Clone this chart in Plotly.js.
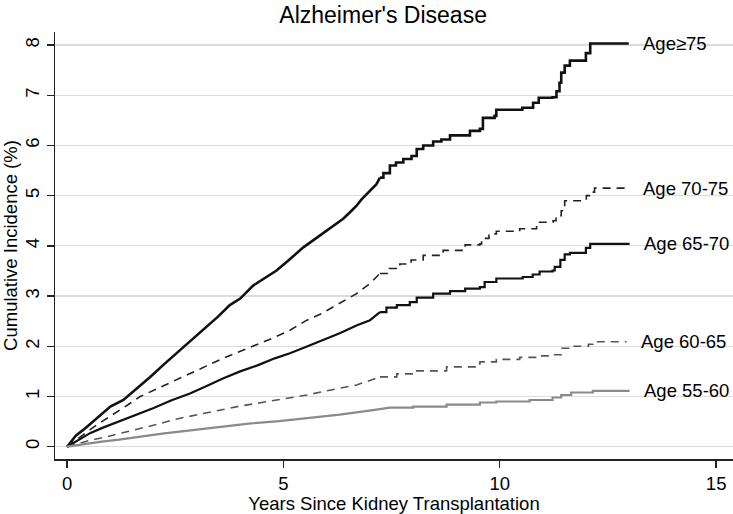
<!DOCTYPE html>
<html>
<head>
<meta charset="utf-8">
<script src="https://cdn.plot.ly/plotly-3.0.1.min.js"></script>
<style>html,body{margin:0;padding:0;background:#fff;}#chart{width:733px;height:514px;}</style>
</head>
<body>
<div id="chart"></div>
<script>
const seriesNames = ["Age≥75", "Age 70-75", "Age 65-70", "Age 60-65", "Age 55-60"];

const t75 = [0,0.1,0.2,0.38,0.6,0.8,1.0,1.3,1.6,1.92,2.25,2.61,2.95,3.3,3.5,3.76,4.0,4.3,4.6,4.84,5.1,5.46,5.75,6.0,6.2,6.38,6.55,6.69,6.8,6.92,7.05,7.15,7.23,7.31,7.46,7.6,7.77,7.96,8.08,8.23,8.46,8.65,8.85,9.31,9.54,9.61,9.88,9.92,10.52,10.77,10.9,11.22,11.31,11.38,11.42,11.5,11.62,11.99,12.09,12.98];
const v75 = [0,0.12,0.22,0.34,0.5,0.66,0.8,0.93,1.15,1.39,1.65,1.92,2.18,2.45,2.6,2.82,2.95,3.21,3.38,3.51,3.7,3.97,4.15,4.31,4.43,4.54,4.68,4.8,4.92,5.03,5.15,5.23,5.36,5.45,5.6,5.66,5.73,5.79,5.93,6.0,6.08,6.12,6.2,6.29,6.33,6.55,6.59,6.71,6.75,6.85,6.95,6.96,7.08,7.25,7.45,7.59,7.69,7.84,8.03,8.03];

const t7075 = [0,0.15,0.3,0.53,0.8,1.1,1.4,1.69,2.0,2.4,2.84,3.2,3.6,4.0,4.4,4.8,5.15,5.54,5.9,6.3,6.69,7.0,7.23,7.45,7.69,7.95,8.23,8.69,9.2,9.54,9.58,9.75,9.92,10.46,10.85,11.23,11.3,11.42,11.5,12.0,12.1,12.19,12.99];
const v7075 = [0,0.1,0.2,0.34,0.5,0.66,0.83,1.0,1.12,1.28,1.46,1.6,1.76,1.9,2.04,2.18,2.32,2.52,2.66,2.85,3.05,3.25,3.45,3.55,3.64,3.72,3.81,3.91,4.02,4.04,4.15,4.24,4.29,4.34,4.47,4.5,4.6,4.7,4.9,5.0,5.07,5.15,5.15];

const t6570 = [0,0.15,0.3,0.53,0.8,1.1,1.4,1.69,2.0,2.4,2.84,3.2,3.6,4.0,4.4,4.8,5.15,5.5,5.9,6.3,6.7,7.0,7.23,7.38,7.62,7.92,8.08,8.46,8.85,9.2,9.54,9.65,9.92,10.53,10.76,10.92,11.22,11.27,11.4,11.5,11.62,11.99,12.09,13.0];
const v6570 = [0,0.08,0.16,0.27,0.37,0.47,0.57,0.67,0.77,0.92,1.06,1.2,1.36,1.5,1.62,1.76,1.86,1.98,2.12,2.26,2.42,2.52,2.68,2.77,2.82,2.88,2.97,3.05,3.1,3.15,3.18,3.28,3.35,3.38,3.43,3.49,3.51,3.58,3.72,3.83,3.86,3.96,4.04,4.04];

const t6065 = [0,0.2,0.5,0.92,1.3,1.7,2.1,2.46,2.9,3.4,4.0,4.5,5.0,5.54,6.1,6.69,7.0,7.23,7.62,8.0,8.77,9.45,9.54,9.92,10.46,10.85,11.22,11.42,11.62,12.05,12.15,12.93];
const v6065 = [0,0.05,0.12,0.2,0.28,0.36,0.45,0.54,0.62,0.71,0.81,0.88,0.95,1.03,1.13,1.23,1.32,1.39,1.45,1.51,1.59,1.65,1.69,1.74,1.78,1.81,1.83,1.96,2.0,2.04,2.09,2.09];

const t5560 = [0,0.3,0.8,1.2,1.69,2.2,2.9,3.61,4.2,4.9,5.54,6.3,7.07,7.46,8.0,8.77,9.54,9.92,10.69,11.22,11.42,11.65,12.15,13.0];
const v5560 = [0,0.04,0.1,0.14,0.2,0.26,0.33,0.4,0.46,0.51,0.57,0.64,0.73,0.78,0.8,0.84,0.88,0.9,0.93,0.98,1.03,1.08,1.11,1.11];

const xTicks = [0, 5, 10, 15];
const yTicks = [0, 1, 2, 3, 4, 5, 6, 7, 8];

const xs = [t75, t7075, t6570, t6065, t5560];
const ys = [v75, v7075, v6570, v6065, v5560];
const styles = [
  {color: '#111111', width: 2.6, dash: 'solid'},
  {color: '#222222', width: 1.6, dash: '8px,6px'},
  {color: '#111111', width: 2.2, dash: 'solid'},
  {color: '#555555', width: 1.6, dash: '8px,6px'},
  {color: '#8a8a8a', width: 2.2, dash: 'solid'}
];
// where the curves switch from smooth-looking to visible steps
const STEP_FROM = 7.2;

const FONT = '"Liberation Sans", Arial, Helvetica, sans-serif';

const traces = [];
xs.forEach((x, i) => {
  const y = ys[i];
  let k = x.findIndex(v => v >= STEP_FROM);
  if (k < 0) k = x.length - 1;
  const line = {color: styles[i].color, width: styles[i].width, dash: styles[i].dash};
  traces.push({x: x.slice(0, k + 1), y: y.slice(0, k + 1), type: 'scatter', mode: 'lines',
    line: Object.assign({shape: 'linear'}, line), hoverinfo: 'skip'});
  traces.push({x: x.slice(k), y: y.slice(k), type: 'scatter', mode: 'lines',
    line: Object.assign({shape: 'hv'}, line), hoverinfo: 'skip'});
});

const annotations = xs.map((x, i) => ({
  x: x[x.length - 1], y: ys[i][ys[i].length - 1], xref: 'x', yref: 'y',
  text: seriesNames[i], showarrow: false, xanchor: 'left', yanchor: 'middle', xshift: 12,
  font: {family: FONT, size: 18.5, color: '#000'}
}));

const layout = {
  width: 733, height: 514,
  margin: {l: 55, r: 0, t: 32, b: 55, pad: 0},
  paper_bgcolor: '#ffffff', plot_bgcolor: '#ffffff',
  showlegend: false,
  font: {family: FONT, color: '#000'},
  title: {text: "Alzheimer's Disease", x: 0.484, xref: 'paper', xanchor: 'center', y: 0.97, yanchor: 'middle', font: {family: FONT, size: 23, color: '#000'}},
  xaxis: {
    range: [-0.28, 15.39], tickvals: xTicks, ticktext: xTicks.map(String),
    showgrid: false, zeroline: false, showline: true, linecolor: '#222', linewidth: 1.5,
    ticks: 'outside', ticklen: 7, tickwidth: 1.3, tickcolor: '#222',
    tickfont: {family: FONT, size: 18.5, color: '#000'},
    title: {text: 'Years Since Kidney Transplantation', font: {family: FONT, size: 18.5, color: '#000'}, standoff: 2}
  },
  yaxis: {
    range: [-0.245, 8.26], tickvals: yTicks, ticktext: yTicks.map(String),
    showgrid: true, gridcolor: '#dcdcdc', gridwidth: 1.2, zeroline: false,
    showline: true, linecolor: '#222', linewidth: 1.5,
    ticks: 'outside', ticklen: 7, tickwidth: 1.3, tickcolor: '#222', tickangle: -90,
    tickfont: {family: FONT, size: 18.5, color: '#000'},
    title: {text: 'Cumulative Incidence (%)', font: {family: FONT, size: 18.5, color: '#000'}, standoff: 2}
  },
  annotations: annotations
};

Plotly.newPlot('chart', traces, layout, {staticPlot: true, displayModeBar: false});
</script>
</body>
</html>
